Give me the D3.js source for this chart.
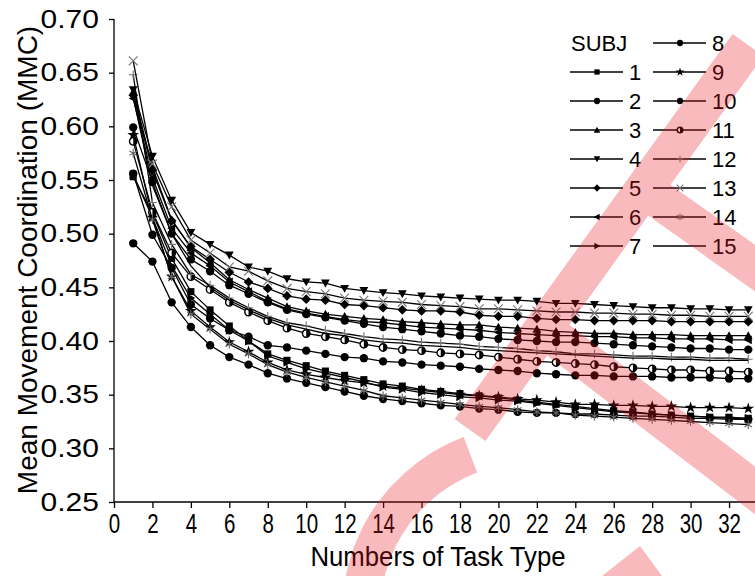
<!DOCTYPE html>
<html><head><meta charset="utf-8">
<script src="https://cdn.jsdelivr.net/npm/d3@7"></script>
<style>
html,body{margin:0;padding:0;background:#fff;}
text{font-family:"Liberation Sans",Arial,sans-serif;fill:#000;}
</style></head>
<body><svg id="c" width="755" height="576"></svg>
<script>
const taskNumbers = [1,2,3,4,5,6,7,8,9,10,11,12,13,14,15,16,17,18,19,20,21,22,23,24,25,26,27,28,29,30,31,32,33];
const subjects = ["1","2","3","4","5","6","7","8","9","10","11","12","13","14","15"];
const s1  = [0.553,0.519,0.477,0.446,0.429,0.414,0.400,0.388,0.382,0.377,0.372,0.368,0.364,0.360,0.358,0.355,0.353,0.351,0.349,0.347,0.345,0.343,0.341,0.339,0.337,0.335,0.334,0.332,0.331,0.330,0.329,0.329,0.328];
const s2  = [0.556,0.499,0.468,0.434,0.421,0.410,0.404,0.396,0.394,0.391,0.388,0.385,0.384,0.381,0.380,0.378,0.377,0.376,0.374,0.373,0.372,0.370,0.369,0.368,0.368,0.367,0.367,0.367,0.366,0.366,0.366,0.365,0.365];
const s3  = [0.632,0.562,0.513,0.487,0.473,0.457,0.448,0.440,0.432,0.428,0.425,0.423,0.421,0.420,0.418,0.417,0.416,0.415,0.415,0.413,0.412,0.411,0.409,0.408,0.407,0.407,0.406,0.406,0.406,0.405,0.405,0.405,0.405];
const s4  = [0.634,0.572,0.531,0.501,0.490,0.480,0.469,0.465,0.458,0.455,0.454,0.449,0.447,0.445,0.444,0.442,0.441,0.440,0.439,0.438,0.438,0.437,0.435,0.435,0.434,0.433,0.432,0.431,0.431,0.430,0.430,0.429,0.429];
const s5  = [0.629,0.559,0.512,0.488,0.476,0.464,0.455,0.449,0.442,0.439,0.438,0.434,0.433,0.431,0.429,0.428,0.428,0.427,0.424,0.423,0.423,0.421,0.420,0.420,0.419,0.419,0.419,0.419,0.418,0.418,0.418,0.418,0.418];
const s6  = [0.626,0.552,0.505,0.482,0.470,0.455,0.446,0.437,0.430,0.426,0.423,0.420,0.418,0.417,0.415,0.413,0.412,0.411,0.410,0.408,0.407,0.406,0.405,0.405,0.404,0.404,0.403,0.403,0.402,0.402,0.402,0.401,0.401];
const s7  = [0.555,0.515,0.470,0.440,0.425,0.410,0.400,0.386,0.380,0.374,0.370,0.366,0.362,0.357,0.355,0.352,0.350,0.348,0.347,0.345,0.344,0.342,0.340,0.338,0.336,0.334,0.333,0.332,0.331,0.330,0.329,0.328,0.328];
const s8  = [0.491,0.474,0.436,0.413,0.396,0.385,0.378,0.370,0.365,0.361,0.357,0.353,0.349,0.346,0.344,0.342,0.340,0.339,0.337,0.336,0.334,0.333,0.333,0.332,0.332,0.331,0.330,0.330,0.329,0.328,0.328,0.327,0.327];
const s9  = [0.592,0.515,0.460,0.428,0.413,0.399,0.390,0.380,0.373,0.369,0.366,0.363,0.361,0.358,0.356,0.354,0.352,0.350,0.349,0.348,0.346,0.345,0.343,0.341,0.341,0.340,0.340,0.339,0.339,0.338,0.338,0.338,0.337];
const s10 = [0.599,0.548,0.500,0.476,0.465,0.452,0.444,0.436,0.429,0.425,0.422,0.419,0.416,0.413,0.411,0.409,0.407,0.405,0.404,0.402,0.401,0.400,0.399,0.399,0.398,0.397,0.396,0.395,0.394,0.393,0.393,0.392,0.392];
const s11 = [0.586,0.520,0.482,0.460,0.448,0.436,0.427,0.419,0.412,0.407,0.404,0.401,0.397,0.394,0.392,0.391,0.389,0.388,0.387,0.385,0.383,0.381,0.380,0.379,0.378,0.376,0.375,0.374,0.373,0.373,0.372,0.372,0.371];
const s12 = [0.648,0.529,0.490,0.462,0.452,0.440,0.431,0.423,0.417,0.414,0.410,0.407,0.404,0.402,0.401,0.399,0.398,0.397,0.395,0.394,0.393,0.391,0.390,0.388,0.388,0.387,0.386,0.386,0.385,0.385,0.384,0.384,0.383];
const s13 = [0.661,0.565,0.525,0.494,0.482,0.469,0.465,0.456,0.449,0.446,0.444,0.440,0.438,0.437,0.436,0.434,0.433,0.432,0.430,0.430,0.429,0.428,0.427,0.427,0.426,0.426,0.425,0.425,0.424,0.424,0.423,0.423,0.423];
const s14 = [0.575,0.513,0.460,0.425,0.411,0.397,0.388,0.378,0.371,0.366,0.362,0.358,0.354,0.349,0.347,0.345,0.343,0.341,0.339,0.338,0.336,0.334,0.333,0.331,0.330,0.329,0.328,0.327,0.326,0.325,0.324,0.323,0.322];
const s15 = [0.627,0.545,0.500,0.470,0.450,0.438,0.429,0.421,0.415,0.411,0.407,0.405,0.401,0.399,0.398,0.396,0.395,0.394,0.392,0.391,0.390,0.389,0.388,0.387,0.386,0.385,0.384,0.384,0.383,0.383,0.382,0.382,0.382];
const xTicks = [0,2,4,6,8,10,12,14,16,18,20,22,24,26,28,30,32];
const yTicks = [0.25,0.30,0.35,0.40,0.45,0.50,0.55,0.60,0.65,0.70];
const markerKinds = ["square","circle","up","down","diamond","left","right","circle","star","circle","half","plus","cross","asterisk","none"];

const allSeries = [s1,s2,s3,s4,s5,s6,s7,s8,s9,s10,s11,s12,s13,s14,s15];

const svg = d3.select("#c");
const x = d3.scaleLinear().domain([0, 33.35]).range([114, 755]);
const y = d3.scaleLinear().domain([0.25, 0.70]).range([502, 19]);

// axes
const yAxis = d3.axisLeft(y).tickValues(yTicks).tickFormat(d3.format(".2f")).tickSize(5).tickPadding(4);
const gy = svg.append("g").attr("transform","translate(114,0)").call(yAxis);
gy.select(".domain").attr("stroke","#000").attr("stroke-width",1.3).attr("d","M0,19V502");
gy.selectAll(".tick line").attr("stroke","#000").attr("stroke-width",1.3);
gy.selectAll(".tick text").style("font-size","25px").attr("fill","#000")
  .attr("x",0).attr("transform","translate(-15,0) scale(1.2,1)");

const xAxis = d3.axisBottom(x).tickValues(xTicks).tickFormat(d3.format("d")).tickSize(6).tickPadding(6);
const gx = svg.append("g").attr("transform","translate(0,502)").call(xAxis);
gx.select(".domain").attr("stroke","#000").attr("stroke-width",1.3).attr("d","M114,0H755");
gx.selectAll(".tick line").attr("stroke","#000").attr("stroke-width",1.3);
gx.selectAll(".tick text").style("font-size","27px").attr("fill","#000").attr("transform","scale(0.76,1)");

svg.append("text").attr("transform","translate(438,566) scale(0.92,1)").attr("text-anchor","middle")
  .style("font-size","28px").text("Numbers of Task Type");
svg.append("text").attr("transform","translate(37,260) rotate(-90)").attr("text-anchor","middle")
  .style("font-size","28px").text("Mean Movement Coordination (MMC)");

// marker drawing
function drawMarker(g, kind, s) {
  const r = s;
  if (kind === "square") g.append("rect").attr("x",-r*0.8).attr("y",-r*0.8).attr("width",r*1.6).attr("height",r*1.6).attr("fill","#000");
  else if (kind === "circle") g.append("circle").attr("r",r*0.95).attr("fill","#000");
  else if (kind === "up") g.append("path").attr("d",`M0,${-r}L${r},${r*0.8}L${-r},${r*0.8}Z`).attr("fill","#000");
  else if (kind === "down") g.append("path").attr("d",`M0,${r}L${r},${-r*0.8}L${-r},${-r*0.8}Z`).attr("fill","#000");
  else if (kind === "left") g.append("path").attr("d",`M${-r},0L${r*0.8},${-r}L${r*0.8},${r}Z`).attr("fill","#000");
  else if (kind === "right") g.append("path").attr("d",`M${r},0L${-r*0.8},${-r}L${-r*0.8},${r}Z`).attr("fill","#000");
  else if (kind === "diamond") g.append("path").attr("d",`M0,${-r*1.1}L${r*1.1},0L0,${r*1.1}L${-r*1.1},0Z`).attr("fill","#000");
  else if (kind === "star") g.append("path").attr("d", d3.symbol(d3.symbolStar, r*r*2.2)()).attr("fill","#000");
  else if (kind === "half") {
    g.append("circle").attr("r",r*0.85).attr("fill","#fff").attr("stroke","#000").attr("stroke-width",1.4);
    g.append("path").attr("d",`M0,${-r*0.85}A${r*0.85},${r*0.85} 0 0 1 0,${r*0.85}Z`).attr("fill","#000");
  }
  else if (kind === "plus") g.append("path").attr("d",`M${-r},0H${r}M0,${-r}V${r}`).attr("stroke","#777").attr("stroke-width",1.1);
  else if (kind === "cross") g.append("path").attr("d",`M${-r},${-r}L${r},${r}M${-r},${r}L${r},${-r}`).attr("stroke","#777").attr("stroke-width",1.1);
  else if (kind === "asterisk") g.append("path").attr("d",`M0,${-r}V${r}M${-r*0.87},${-r*0.5}L${r*0.87},${r*0.5}M${-r*0.87},${r*0.5}L${r*0.87},${-r*0.5}`).attr("stroke","#666").attr("stroke-width",1.1);
}

const line = d3.line().x((d,i)=>x(taskNumbers[i])).y(d=>y(d));
const plot = svg.append("g");
allSeries.forEach((vals, k) => {
  const g = plot.append("g");
  g.append("path").attr("d", line(vals)).attr("fill","none").attr("stroke","#000").attr("stroke-width",1.3);
  vals.forEach((v,i) => {
    const m = g.append("g").attr("transform",`translate(${x(taskNumbers[i])},${y(v)})`);
    drawMarker(m, markerKinds[k], 4.4);
  });
});

// legend
const leg = svg.append("g");
leg.append("text").attr("x",571).attr("y",51).style("font-size","22px").text("SUBJ");
subjects.forEach((name,k) => {
  const col = k < 7 ? 0 : 1;
  const row = k < 7 ? k + 1 : k - 7;
  const lx = col === 0 ? 570 : 653;
  const ly = 43 + row * 29;
  leg.append("line").attr("x1",lx).attr("x2",lx+53).attr("y1",ly).attr("y2",ly).attr("stroke","#000").attr("stroke-width",1.3);
  const m = leg.append("g").attr("transform",`translate(${lx+27},${ly})`);
  drawMarker(m, markerKinds[k], 3.3);
  leg.append("text").attr("x",lx+59).attr("y",ly+8).style("font-size","22px").text(name);
});

// watermark overlay
const red = "rgb(235,25,35)";
const wm = svg.append("g").attr("opacity",0.3);
const band = wm.append("g").attr("fill","none").attr("stroke",red).attr("stroke-width",38);
band.append("line").attr("x1",470).attr("y1",430).attr("x2",748).attr("y2",45);
band.append("line").attr("x1",645).attr("y1",190).attr("x2",800).attr("y2",300);
band.append("line").attr("x1",545).attr("y1",330).attr("x2",820).attr("y2",540);
wm.append("path").attr("transform","translate(530,613)")
  .attr("d", d3.arc().innerRadius(150).outerRadius(188).startAngle(-Math.PI/2 - 0.3).endAngle(-0.36)())
  .attr("fill",red);
wm.append("path").attr("d","M602,576L662,576L640,546Z").attr("fill",red);
</script></body></html>
